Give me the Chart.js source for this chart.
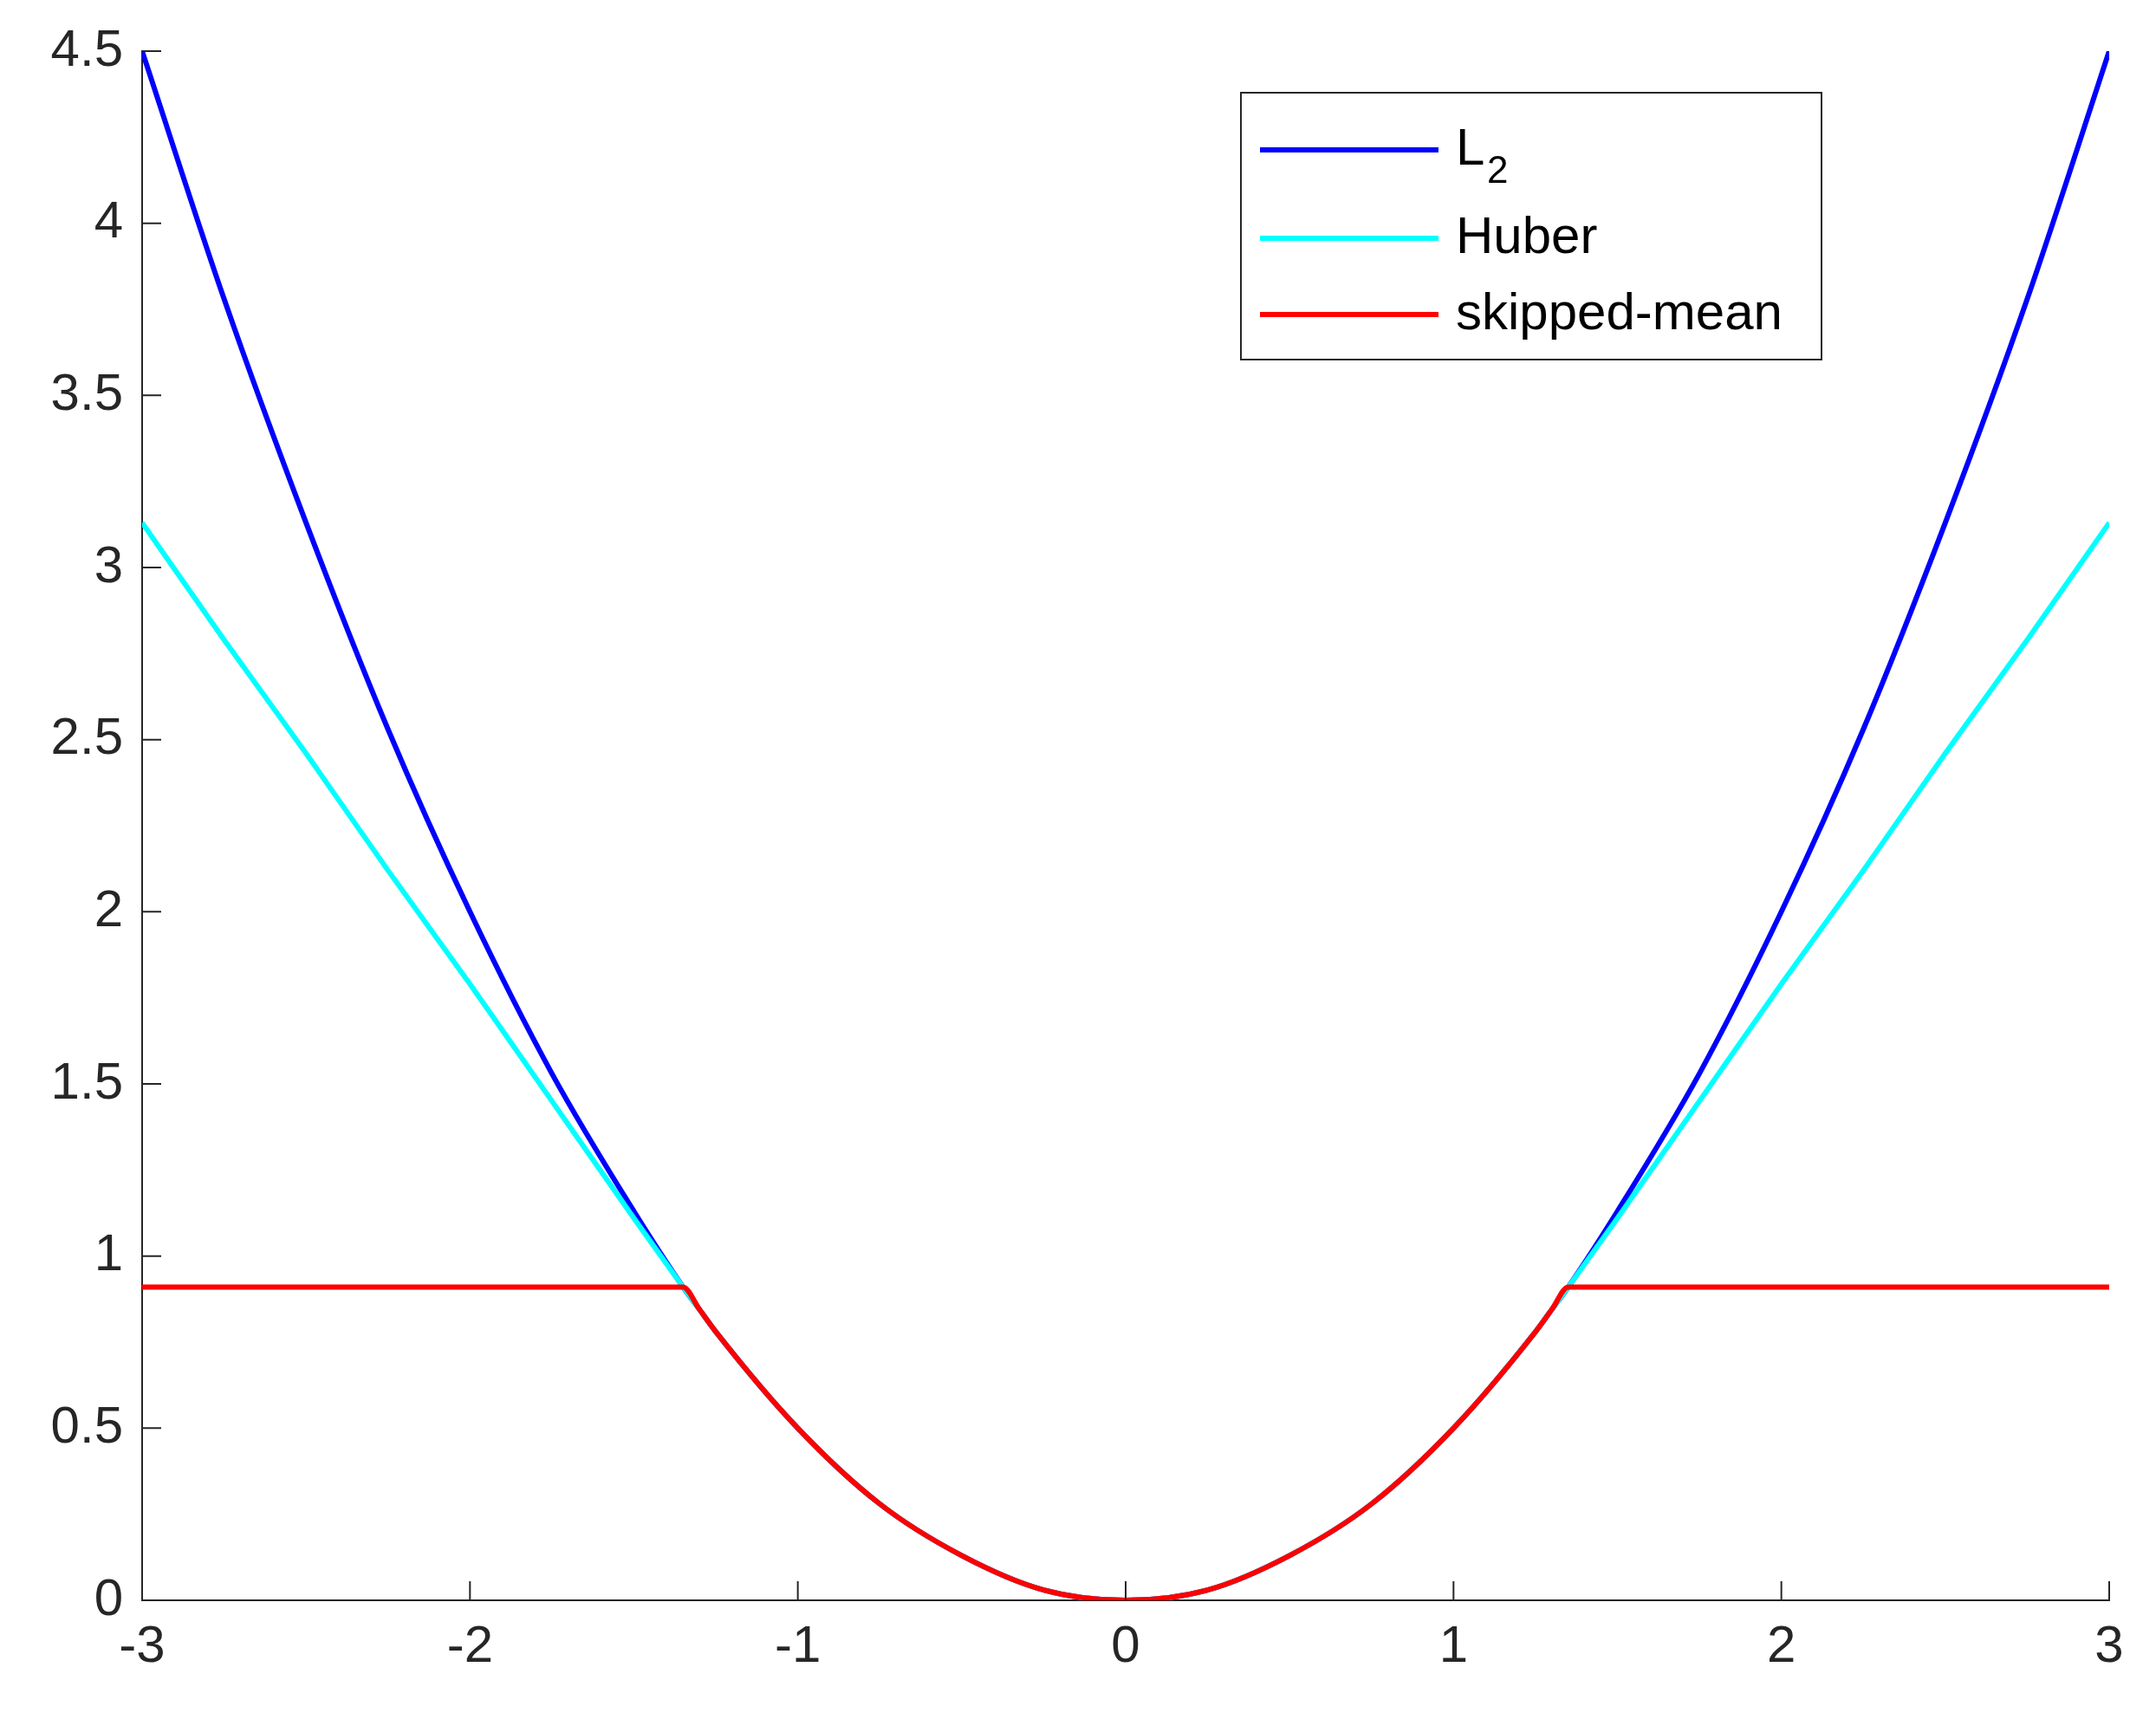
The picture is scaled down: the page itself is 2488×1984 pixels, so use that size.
<!DOCTYPE html>
<html>
<head>
<meta charset="utf-8">
<script src="https://cdn.jsdelivr.net/npm/chart.js@4"></script>
<style>
  body { margin: 0; background: #fff; }
  #chart { display: block; }
</style>
</head>
<body>
<canvas id="chart" width="2488" height="1984"></canvas>
<script>
// Values
const xs = [-3, -2.75, -2.5, -2.25, -2, -1.75, -1.5, -1.35, -1.3, -1.25, -1, -0.75, -0.5, -0.25, 0,
  0.25, 0.5, 0.75, 1, 1.25, 1.3, 1.35, 1.5, 1.75, 2, 2.25, 2.5, 2.75, 3];
const l2 = [4.5, 3.78, 3.13, 2.53, 2, 1.53, 1.13, 0.91, 0.845, 0.78, 0.5, 0.28, 0.13, 0.03, 0,
  0.03, 0.13, 0.28, 0.5, 0.78, 0.845, 0.91, 1.13, 1.53, 2, 2.53, 3.13, 3.78, 4.5];
const huber = [3.13, 2.79, 2.46, 2.12, 1.79, 1.45, 1.11, 0.91, 0.845, 0.78, 0.5, 0.28, 0.13, 0.03, 0,
  0.03, 0.13, 0.28, 0.5, 0.78, 0.845, 0.91, 1.11, 1.45, 1.79, 2.12, 2.46, 2.79, 3.13];
const skipped = [0.91, 0.91, 0.91, 0.91, 0.91, 0.91, 0.91, 0.91, 0.845, 0.78, 0.5, 0.28, 0.13, 0.03, 0,
  0.03, 0.13, 0.28, 0.5, 0.78, 0.845, 0.91, 0.91, 0.91, 0.91, 0.91, 0.91, 0.91, 0.91];
const labels = ['L₂', 'Huber', 'skipped-mean'];
const colors = ['#0000ff', '#00ffff', '#ff0000'];

const FONT = '"Liberation Sans", Arial, sans-serif';

const toPoints = (ys) => xs.map((x, i) => ({ x: x, y: ys[i] }));

// MATLAB-style inward ticks and a boxed legend
const extras = {
  id: 'extras',
  afterDraw(chart) {
    const ctx = chart.ctx;
    const { left, bottom } = chart.chartArea;
    const sx = chart.scales.x, sy = chart.scales.y;
    ctx.save();
    ctx.strokeStyle = '#262626';
    ctx.lineWidth = 2;
    ctx.beginPath();
    for (let v = -3; v <= 3; v++) {
      const px = sx.getPixelForValue(v);
      ctx.moveTo(px, bottom);
      ctx.lineTo(px, bottom - 22);
    }
    for (let v = 0; v <= 4.5; v += 0.5) {
      const py = sy.getPixelForValue(v);
      ctx.moveTo(left, py);
      ctx.lineTo(left + 22, py);
    }
    ctx.stroke();

    // legend
    const bx = 1432, by = 107, bw = 670, bh = 308;
    ctx.fillStyle = '#fff';
    ctx.fillRect(bx, by, bw, bh);
    ctx.strokeStyle = '#262626';
    ctx.strokeRect(bx, by, bw, bh);
    ctx.font = '60px ' + FONT;
    ctx.textBaseline = 'middle';
    const rows = [173, 275, 363];
    for (let i = 0; i < 3; i++) {
      ctx.strokeStyle = colors[i];
      ctx.lineWidth = 6;
      ctx.beginPath();
      ctx.moveTo(bx + 22, rows[i]);
      ctx.lineTo(bx + 228, rows[i]);
      ctx.stroke();
      ctx.fillStyle = '#000';
      if (i === 0) {
        ctx.fillText('L', bx + 248, rows[i]);
        ctx.font = '44px ' + FONT;
        ctx.fillText('2', bx + 284, rows[i] + 26);
        ctx.font = '60px ' + FONT;
      } else {
        ctx.fillText(labels[i], bx + 248, rows[i]);
      }
    }
    ctx.restore();
  }
};

const ds = [l2, huber, skipped].map((ys, i) => ({
  label: labels[i],
  data: toPoints(ys),
  borderColor: colors[i],
  borderWidth: 6,
  pointRadius: 0,
  cubicInterpolationMode: 'monotone',
  fill: false,
  order: 3 - i,
}));

new Chart(document.getElementById('chart').getContext('2d'), {
  type: 'line',
  data: { datasets: ds },
  plugins: [extras],
  options: {
    responsive: false,
    devicePixelRatio: 1,
    animation: false,
    layout: { padding: { top: 59, right: 54 } },
    plugins: { legend: { display: false }, tooltip: { enabled: false } },
    scales: {
      x: {
        type: 'linear',
        min: -3,
        max: 3,
        grid: { display: false },
        border: { display: true, color: '#262626', width: 2 },
        ticks: { stepSize: 1, color: '#262626', font: { size: 60, family: FONT }, padding: 10, maxRotation: 0 },
        afterFit(s) { s.height = 137; },
      },
      y: {
        min: 0,
        max: 4.5,
        grid: { display: false },
        border: { display: true, color: '#262626', width: 2 },
        ticks: {
          stepSize: 0.5,
          color: '#262626',
          font: { size: 60, family: FONT },
          padding: 14,
          callback: (v) => String(v),
        },
        afterFit(s) { s.width = 164; },
      },
    },
  },
});
</script>
</body>
</html>
